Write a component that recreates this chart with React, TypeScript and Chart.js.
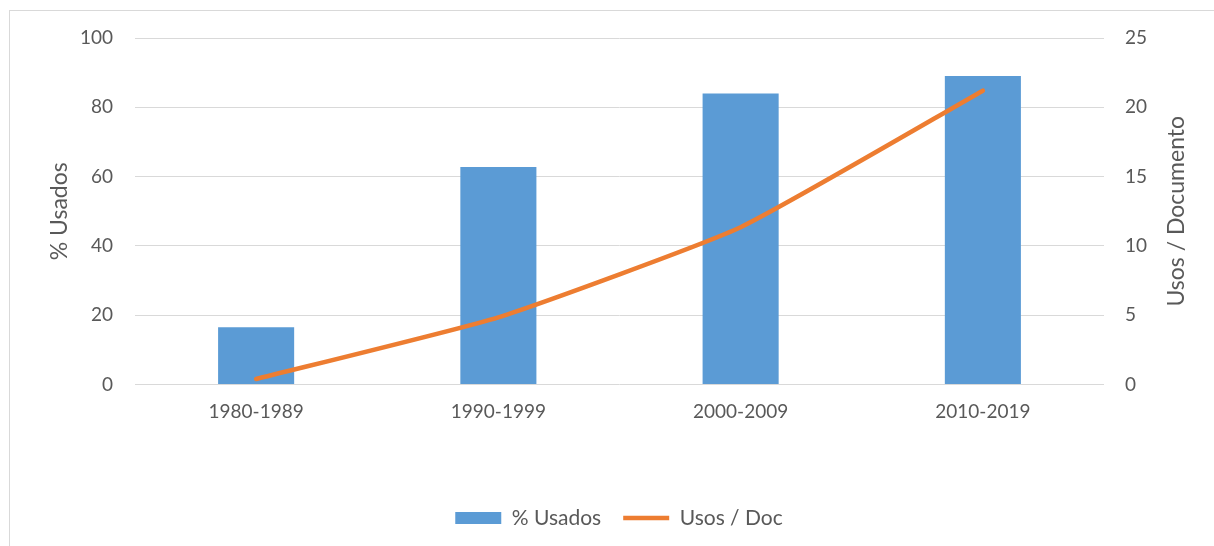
import React, { useEffect, useRef } from "react";
import { Chart, registerables } from "chart.js";

Chart.register(...registerables);

const categories = ["1980-1989", "1990-1999", "2000-2009", "2010-2019"];
const pctUsados = [16.5, 62.8, 84.0, 89.0];
const usosPorDoc = [0.4, 4.85, 11.35, 21.2];
const leftTicks = [0, 20, 40, 60, 80, 100];
const rightTicks = [0, 5, 10, 15, 20, 25];

const W = 1214;
const H = 550;
const GRAY = "#595959";
const FONT = "Lato";

export default function App() {
  const ref = useRef<HTMLCanvasElement>(null);

  useEffect(() => {
    const canvas = ref.current;
    if (!canvas) return;
    const rightTitle = {
      id: "rightTitle",
      afterDraw(chart: any) {
        const { ctx, chartArea } = chart;
        ctx.save();
        ctx.translate(1177, (chartArea.top + chartArea.bottom) / 2);
        ctx.rotate(-Math.PI / 2);
        ctx.textAlign = "center";
        ctx.textBaseline = "middle";
        ctx.fillStyle = GRAY;
        ctx.font = `23px ${FONT}`;
        ctx.fillText("Usos / Documento", 0, 0);
        ctx.restore();
      },
    };
    const chart = new Chart(canvas, {
      type: "bar",
      data: {
        labels: categories,
        datasets: [
          {
            type: "bar",
            label: "% Usados",
            data: pctUsados,
            backgroundColor: "#5b9bd5",
            borderWidth: 0,
            yAxisID: "y",
            order: 1,
            categoryPercentage: 1,
            barPercentage: 0.314,
            pointStyle: "rect",
          } as any,
          {
            type: "line",
            label: "Usos / Doc",
            data: usosPorDoc,
            borderColor: "#ed7d31",
            backgroundColor: "#ed7d31",
            borderWidth: 4.5,
            borderCapStyle: "round",
            pointRadius: 0,
            tension: 0.15,
            yAxisID: "y1",
            order: 0,
            pointStyle: "line",
          } as any,
        ],
      },
      options: {
        responsive: false,
        animation: false,
        layout: { padding: { top: 38, left: 24, right: 0, bottom: 11.5 } },
        plugins: {
          tooltip: { enabled: false },
          legend: {
            position: "bottom",
            labels: {
              usePointStyle: true,
              pointStyleWidth: 46,
              boxHeight: 12,
              padding: 22,
              color: GRAY,
              font: { family: FONT, size: 21 },
              sort: (a: any, b: any) => a.datasetIndex - b.datasetIndex,
            },
          },
        },
        scales: {
          x: {
            grid: { display: false, drawTicks: false },
            border: { display: false },
            ticks: { color: GRAY, font: { family: FONT, size: 19 }, padding: 16 },
            afterFit: (s: any) => {
              s.height = 101;
            },
          },
          y: {
            position: "left",
            min: 0,
            max: 100,
            afterBuildTicks: (s: any) => {
              s.ticks = leftTicks.map((v) => ({ value: v }));
            },
            grid: { color: "#d9d9d9", lineWidth: 1, drawTicks: false },
            border: { display: false },
            ticks: { color: GRAY, font: { family: FONT, size: 19 }, padding: 22 },
            title: {
              display: true,
              text: "% Usados",
              color: GRAY,
              font: { family: FONT, size: 23 },
              padding: { top: 21.5, bottom: 0 },
            },
            afterFit: (s: any) => {
              s.width = 111;
            },
          },
          y1: {
            position: "right",
            min: 0,
            max: 25,
            afterBuildTicks: (s: any) => {
              s.ticks = rightTicks.map((v) => ({ value: v }));
            },
            grid: { display: false, drawTicks: false },
            border: { display: false },
            ticks: { color: GRAY, font: { family: FONT, size: 19 }, padding: 21 },
            afterFit: (s: any) => {
              s.width = 110;
            },
          },
        },
      },
      plugins: [rightTitle],
    } as any);
    return () => chart.destroy();
  }, []);

  return (
    <div
      style={{
        position: "fixed",
        left: 0,
        top: 0,
        width: W,
        height: 546,
        overflow: "hidden",
        background: "#fff",
      }}
    >
      <div
        style={{
          position: "absolute",
          left: 9,
          top: 10,
          width: W,
          height: 600,
          borderLeft: "1px solid #d9d9d9",
          borderTop: "1px solid #d9d9d9",
        }}
      />
      <canvas
        ref={ref}
        width={W}
        height={H}
        style={{ position: "absolute", left: 0, top: 0, width: W, height: H }}
      />
    </div>
  );
}
